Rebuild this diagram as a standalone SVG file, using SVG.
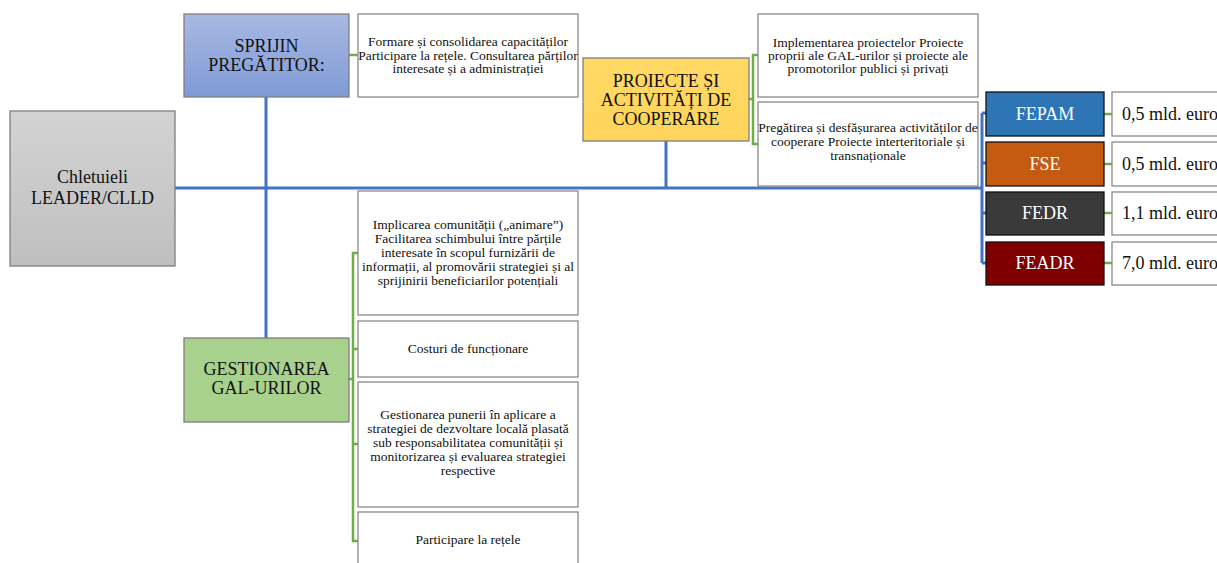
<svg xmlns="http://www.w3.org/2000/svg" width="1217" height="563" viewBox="0 0 1217 563" font-family="'Liberation Serif', 'DejaVu Serif', serif">
<defs>
<linearGradient id="gGray" x1="0" y1="0" x2="0" y2="1"><stop offset="0" stop-color="#d3d3d3"/><stop offset="1" stop-color="#bfbfbf"/></linearGradient>
<linearGradient id="gBlue" x1="0" y1="0" x2="0" y2="1"><stop offset="0" stop-color="#a9b9e2"/><stop offset="1" stop-color="#7f9ad6"/></linearGradient>
<linearGradient id="gYellow" x1="0" y1="0" x2="0" y2="1"><stop offset="0" stop-color="#ffd966"/><stop offset="1" stop-color="#ffd45a"/></linearGradient>
<style>
text{font-family:'Liberation Serif','DejaVu Serif',serif}
.big{font-size:18px;fill:#111;text-anchor:middle}
.sm{font-size:13.5px;fill:#111;text-anchor:middle}
.fund{font-size:18px;fill:#fff;text-anchor:middle}
.val{font-size:18px;fill:#111}
.wbox{fill:#fff;stroke:#8a8a8a;stroke-width:1.3}
.fbox{stroke:#111;stroke-width:1.3}
.blue{stroke:#4472c4;stroke-width:3;fill:none}
.green{stroke:#70ad47;stroke-width:2.5;fill:none}
</style>
</defs>
<rect width="1217" height="563" fill="#fff"/>

<g id="connectors">
<path class="blue" d="M175 188 H982 M266 97 V338 M666 141 V188 M982 113 V263 M982 113 H986 M982 163 H986 M982 213 H986 M982 263 H986"/>
<path class="green" d="M349 55 H358"/>
<path class="green" d="M749 99 H753 M758 55 H753 V144 H758"/>
<path class="green" d="M349 379 H353 M358 253 H353 V541 H358 M353 349 H358 M353 444 H358"/>
<path class="green" d="M1104 114 H1112 M1104 164 H1112 M1104 213 H1112 M1104 263 H1112"/>
</g>

<g id="chletuieli">
<rect x="10" y="111" width="165" height="155" fill="url(#gGray)" stroke="#7f7f7f" stroke-width="1.3"/>
<text class="big" x="92.5" y="183">Chletuieli</text>
<text class="big" x="92.5" y="204">LEADER/CLLD</text>
</g>

<g id="sprijin">
<rect x="184" y="14" width="165" height="83" fill="url(#gBlue)" stroke="#7f7f7f" stroke-width="1.3"/>
<text class="big" x="266.5" y="52">SPRIJIN</text>
<text class="big" x="266.5" y="71">PREGĂTITOR:</text>
</g>

<g id="formare">
<rect class="wbox" x="358" y="14" width="220" height="83"/>
<text class="sm" x="468" y="46">Formare și consolidarea capacităților</text>
<text class="sm" x="468" y="60">Participare la rețele. Consultarea părților</text>
<text class="sm" x="468" y="73">interesate și a administrației</text>
</g>

<g id="proiecte">
<rect x="583" y="58" width="166" height="83" fill="url(#gYellow)" stroke="#7f7f7f" stroke-width="1.3"/>
<text class="big" x="666" y="87">PROIECTE ȘI</text>
<text class="big" x="666" y="106">ACTIVITĂȚI DE</text>
<text class="big" x="666" y="125">COOPERARE</text>
</g>

<g id="implementarea">
<rect class="wbox" x="758" y="14" width="220" height="83"/>
<text class="sm" x="868" y="47">Implementarea proiectelor Proiecte</text>
<text class="sm" x="868" y="60">proprii ale GAL-urilor și proiecte ale</text>
<text class="sm" x="868" y="73">promotorilor publici și privați</text>
</g>

<g id="pregatirea">
<rect class="wbox" x="758" y="102" width="220" height="84"/>
<text class="sm" x="868" y="132">Pregătirea și desfășurarea activităților de</text>
<text class="sm" x="868" y="146">cooperare Proiecte interteritoriale și</text>
<text class="sm" x="868" y="160">transnaționale</text>
</g>

<g id="fepam">
<rect class="fbox" x="986" y="92" width="118" height="44" fill="#2e75b6"/>
<text class="fund" x="1045" y="120">FEPAM</text>
</g>
<g id="fse">
<rect class="fbox" x="986" y="142" width="118" height="44" fill="#c55a11"/>
<text class="fund" x="1045" y="170">FSE</text>
</g>
<g id="fedr">
<rect class="fbox" x="986" y="192" width="118" height="43" fill="#3a3a3a"/>
<text class="fund" x="1045" y="219">FEDR</text>
</g>
<g id="feadr">
<rect class="fbox" x="986" y="242" width="118" height="43" fill="#7f0000"/>
<text class="fund" x="1045" y="269">FEADR</text>
</g>

<g id="val-fepam">
<rect class="wbox" x="1112" y="92" width="120" height="44"/>
<text class="val" x="1122" y="120">0,5 mld. euro</text>
</g>
<g id="val-fse">
<rect class="wbox" x="1112" y="142" width="120" height="44"/>
<text class="val" x="1122" y="170">0,5 mld. euro</text>
</g>
<g id="val-fedr">
<rect class="wbox" x="1112" y="192" width="120" height="43"/>
<text class="val" x="1122" y="219">1,1 mld. euro</text>
</g>
<g id="val-feadr">
<rect class="wbox" x="1112" y="242" width="120" height="43"/>
<text class="val" x="1122" y="269">7,0 mld. euro</text>
</g>

<g id="gestionarea">
<rect x="184" y="338" width="165" height="84" fill="#a9d18e" stroke="#7f7f7f" stroke-width="1.3"/>
<text class="big" x="266.5" y="375">GESTIONAREA</text>
<text class="big" x="266.5" y="394">GAL-URILOR</text>
</g>

<g id="implicarea">
<rect class="wbox" x="358" y="191" width="220" height="124"/>
<text class="sm" x="468" y="229">Implicarea comunității („animare”)</text>
<text class="sm" x="468" y="243">Facilitarea schimbului între părțile</text>
<text class="sm" x="468" y="257">interesate în scopul furnizării de</text>
<text class="sm" x="468" y="271">informații, al promovării strategiei și al</text>
<text class="sm" x="468" y="285">sprijinirii beneficiarilor potențiali</text>
</g>

<g id="costuri">
<rect class="wbox" x="358" y="321" width="220" height="56"/>
<text class="sm" x="468" y="353">Costuri de funcționare</text>
</g>

<g id="gestionarea-punerii">
<rect class="wbox" x="358" y="382" width="220" height="125"/>
<text class="sm" x="468" y="419">Gestionarea punerii în aplicare a</text>
<text class="sm" x="468" y="433">strategiei de dezvoltare locală plasată</text>
<text class="sm" x="468" y="447">sub responsabilitatea comunității și</text>
<text class="sm" x="468" y="461">monitorizarea și evaluarea strategiei</text>
<text class="sm" x="468" y="475">respective</text>
</g>

<g id="participare">
<rect class="wbox" x="358" y="512" width="220" height="60"/>
<text class="sm" x="468" y="544">Participare la rețele</text>
</g>
</svg>
